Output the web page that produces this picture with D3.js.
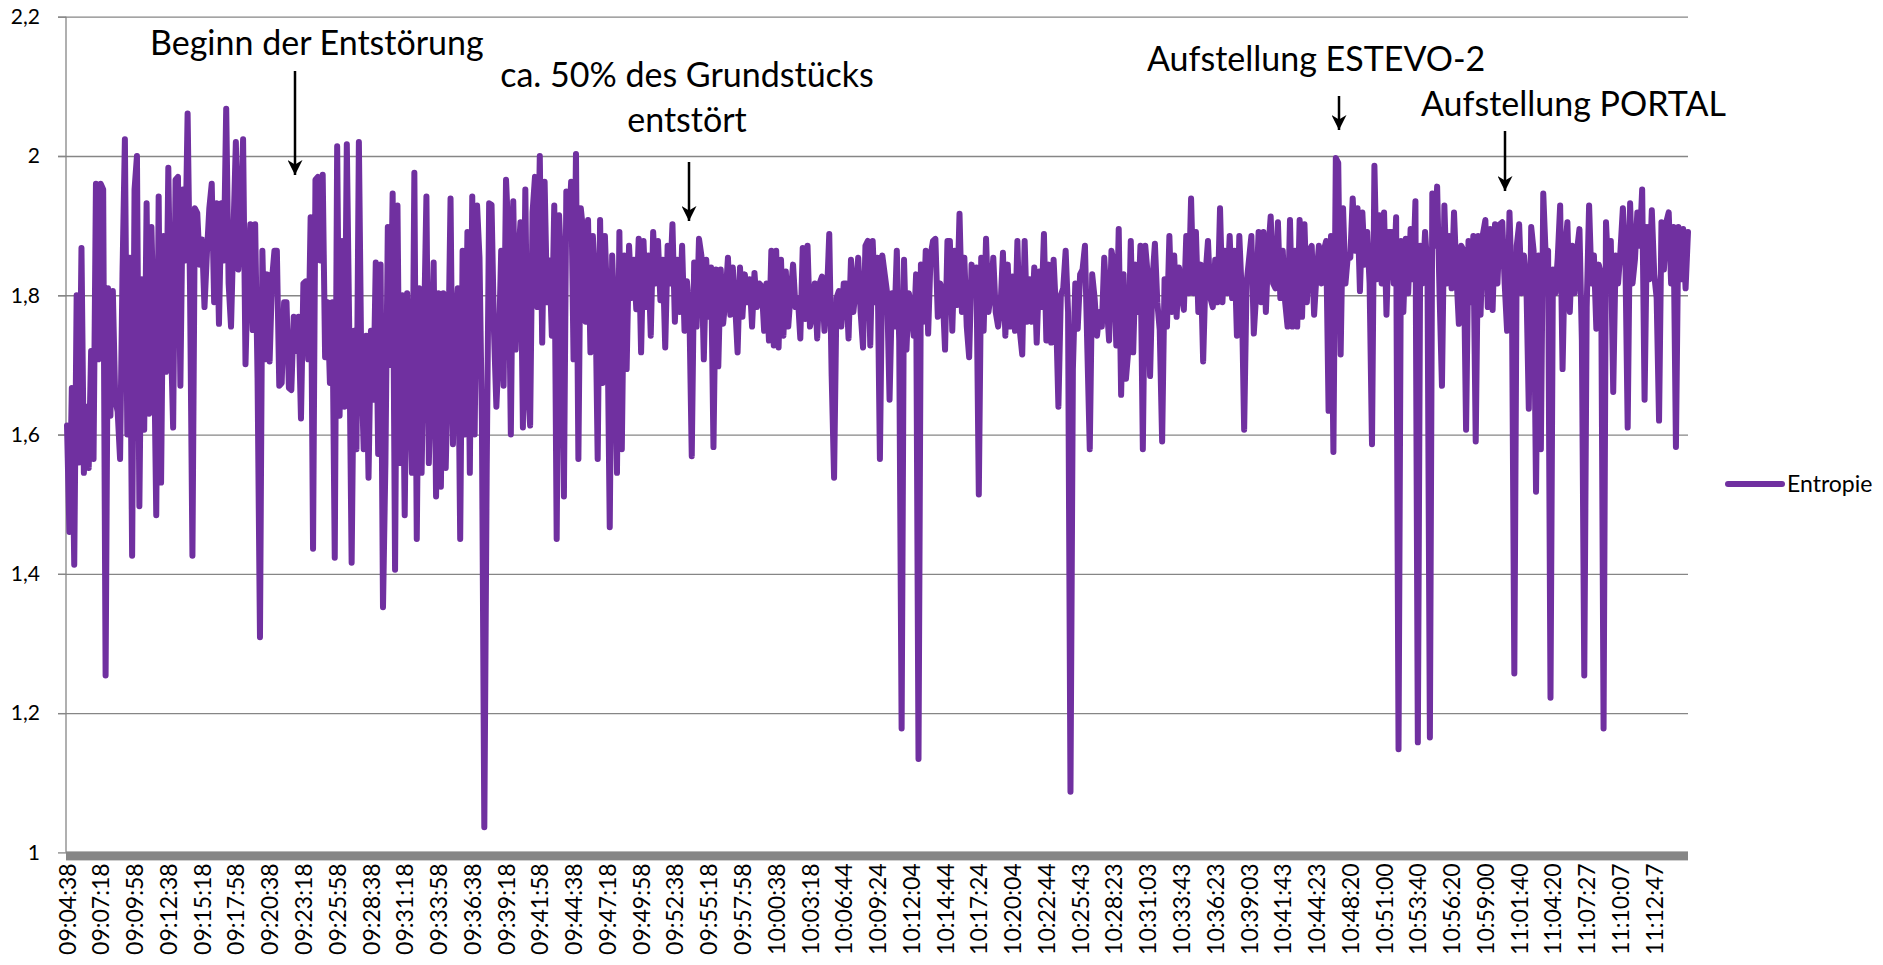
<!DOCTYPE html>
<html>
<head>
<meta charset="utf-8">
<script src="https://cdn.jsdelivr.net/npm/d3@7"></script>
<style>
    body { margin: 0; background: #fff; }
    text { font-family: Lato, "Open Sans", sans-serif; fill: #000; }
</style>
</head>
<body>
<div id="entropie-chart"></div>
<script>
'use strict';

// Zeitstempel an der x-Achse (jeder 14. Messwert)
let times = ['09:04:38', '09:07:18', '09:09:58', '09:12:38', '09:15:18', '09:17:58', '09:20:38', '09:23:18',
    '09:25:58', '09:28:38', '09:31:18', '09:33:58', '09:36:38', '09:39:18', '09:41:58', '09:44:38',
    '09:47:18', '09:49:58', '09:52:38', '09:55:18', '09:57:58', '10:00:38', '10:03:18', '10:06:44',
    '10:09:24', '10:12:04', '10:14:44', '10:17:24', '10:20:04', '10:22:44', '10:25:43', '10:28:23',
    '10:31:03', '10:33:43', '10:36:23', '10:39:03', '10:41:43', '10:44:23', '10:48:20', '10:51:00',
    '10:53:40', '10:56:20', '10:59:00', '11:01:40', '11:04:20', '11:07:27', '11:10:07', '11:12:47'];
let labelStep = 14;

let yTicks = [1, 1.2, 1.4, 1.6, 1.8, 2, 2.2];

// Entropie
let entropie = [
    1.613, 1.46, 1.667, 1.413, 1.80, 1.56, 1.868, 1.545, 1.64, 1.552,
    1.72, 1.565, 1.96, 1.708, 1.96, 1.952, 1.254, 1.81, 1.627, 1.806,
    1.65, 1.633, 1.565, 1.83, 2.024, 1.6, 1.854, 1.426, 1.952, 2.0,
    1.497, 1.823, 1.607, 1.932, 1.63, 1.898, 1.75, 1.484, 1.942, 1.531,
    1.885, 1.69, 1.983, 1.75, 1.61, 1.966, 1.97, 1.67, 1.952, 1.85,
    2.061, 1.81, 1.426, 1.925, 1.918, 1.844, 1.88, 1.783, 1.86, 1.925,
    1.96, 1.79, 1.932, 1.759, 1.932, 1.85, 2.068, 1.817, 1.755, 1.891,
    2.02, 1.837, 1.9, 2.024, 1.701, 1.837, 1.902, 1.75, 1.902, 1.681,
    1.309, 1.864, 1.708, 1.83, 1.705, 1.823, 1.864, 1.864, 1.67, 1.674,
    1.79, 1.79, 1.667, 1.664, 1.769, 1.72, 1.769, 1.623, 1.817, 1.82,
    1.708, 1.912, 1.436, 1.966, 1.97, 1.85, 1.973, 1.711, 1.79, 1.674,
    1.79, 1.423, 2.014, 1.627, 1.878, 1.64, 2.017, 1.75, 1.416, 1.749,
    1.579, 2.02, 1.7, 1.579, 1.742, 1.538, 1.749, 1.65, 1.847, 1.572,
    1.844, 1.352, 1.559, 1.898, 1.7, 1.946, 1.406, 1.929,

    1.559, 1.8, 1.484, 1.803, 1.7, 1.545, 1.976, 1.45, 1.81, 1.545,
    1.75, 1.942, 1.559, 1.694, 1.847, 1.511, 1.803, 1.525, 1.803, 1.552,
    1.701, 1.939, 1.586, 1.749, 1.81, 1.45, 1.864, 1.6, 1.891, 1.545,
    1.942, 1.6, 1.929, 1.854, 1.62, 1.036, 1.552, 1.932, 1.93, 1.75,
    1.64, 1.722, 1.864, 1.67, 1.966, 1.885, 1.6, 1.935, 1.722, 1.85,
    1.905, 1.61, 1.952, 1.667, 1.613, 1.919, 1.97, 1.783, 2.0, 1.732,
    1.963, 1.79, 1.85, 1.742, 1.929, 1.45, 1.915, 1.83, 1.511, 1.949,
    1.891, 1.963, 1.708, 2.003, 1.565, 1.925, 1.891, 1.762, 1.908, 1.718,
    1.885, 1.817, 1.565, 1.908, 1.674, 1.885, 1.78, 1.467, 1.857, 1.762,
    1.545, 1.891, 1.579, 1.857, 1.694, 1.871, 1.796, 1.851, 1.78, 1.881,
    1.718, 1.878, 1.783, 1.857, 1.742, 1.891, 1.817, 1.878, 1.793, 1.851,
    1.725, 1.871, 1.817, 1.902, 1.762, 1.851, 1.776, 1.871, 1.749, 1.82,
    1.78, 1.569, 1.847, 1.755, 1.881, 1.857, 1.708, 1.851, 1.769, 1.84,
    1.582, 1.837, 1.698, 1.837, 1.759, 1.796, 1.854,

    1.772, 1.84, 1.786, 1.718, 1.84, 1.769, 1.83, 1.79, 1.823, 1.755,
    1.832, 1.783, 1.817, 1.813, 1.749, 1.817, 1.735, 1.864, 1.728, 1.864,
    1.725, 1.851, 1.742, 1.834, 1.755, 1.803, 1.844, 1.783, 1.796, 1.738,
    1.868, 1.766, 1.871, 1.755, 1.772, 1.817, 1.738, 1.817, 1.827, 1.749,
    1.796, 1.888, 1.684, 1.538, 1.796, 1.806, 1.755, 1.817, 1.817, 1.738,
    1.851, 1.776, 1.81, 1.854, 1.776, 1.725, 1.871, 1.878, 1.728, 1.878,
    1.79, 1.854, 1.565, 1.857, 1.83, 1.803, 1.65, 1.803, 1.755, 1.864,
    1.735, 1.178, 1.851, 1.722, 1.803, 1.783, 1.742, 1.83, 1.134, 1.844,
    1.762, 1.864, 1.745, 1.857, 1.878, 1.881, 1.769, 1.817, 1.803, 1.722,
    1.878, 1.878, 1.749, 1.864, 1.786, 1.917, 1.776, 1.854, 1.755, 1.711,
    1.844, 1.803, 1.84, 1.514, 1.854, 1.749, 1.881, 1.776, 1.803, 1.854,
    1.776, 1.755, 1.783, 1.861, 1.742, 1.844, 1.755, 1.827, 1.749, 1.878,
    1.749, 1.715, 1.878, 1.762, 1.823, 1.762, 1.84, 1.732, 1.834, 1.783,
    1.888, 1.735, 1.844, 1.732, 1.851, 1.776, 1.64,

    1.80, 1.81, 1.864, 1.776, 1.087, 1.694, 1.817, 1.752, 1.83, 1.837,
    1.871, 1.722, 1.579, 1.83, 1.796, 1.742, 1.776, 1.755, 1.854, 1.79,
    1.735, 1.864, 1.844, 1.728, 1.895, 1.657, 1.83, 1.68, 1.722, 1.878,
    1.718, 1.844, 1.776, 1.871, 1.579, 1.871, 1.83, 1.684, 1.823, 1.874,
    1.79, 1.75, 1.59, 1.823, 1.755, 1.885, 1.776, 1.857, 1.769, 1.84,
    1.803, 1.779, 1.885, 1.803, 1.939, 1.803, 1.891, 1.776, 1.844, 1.705,
    1.83, 1.878, 1.796, 1.783, 1.851, 1.79, 1.925, 1.79, 1.864, 1.803,
    1.885, 1.796, 1.864, 1.742, 1.885, 1.803, 1.607, 1.817, 1.851, 1.885,
    1.745, 1.803, 1.891, 1.79, 1.891, 1.776, 1.864, 1.913, 1.817, 1.81,
    1.905, 1.796, 1.864, 1.79, 1.755, 1.908, 1.755, 1.864, 1.755, 1.908,
    1.769, 1.902, 1.79, 1.864, 1.871, 1.772, 1.83, 1.871, 1.817, 1.864,
    1.878, 1.634, 1.885, 1.575, 1.997, 1.99, 1.715, 1.925, 1.817, 1.857,
    1.854, 1.939, 1.864, 1.925, 1.806, 1.919, 1.844, 1.891, 1.817, 1.586,
    1.986, 1.823, 1.915, 1.817, 1.919, 1.772, 1.891,

    1.891, 1.817, 1.912, 1.148, 1.878, 1.776, 1.881, 1.803, 1.895, 1.823,
    1.935, 1.158, 1.871, 1.817, 1.891, 1.837, 1.165, 1.946, 1.871, 1.956,
    1.803, 1.67, 1.929, 1.817, 1.885, 1.81, 1.919, 1.83, 1.759, 1.871,
    1.864, 1.607, 1.878, 1.79, 1.885, 1.59, 1.885, 1.772, 1.888, 1.908,
    1.783, 1.895, 1.779, 1.902, 1.817, 1.902, 1.905, 1.817, 1.749, 1.919,
    1.803, 1.257, 1.871, 1.902, 1.803, 1.857, 1.817, 1.637, 1.898, 1.864,
    1.518, 1.857, 1.579, 1.946, 1.857, 1.864, 1.222, 1.837, 1.803, 1.854,
    1.929, 1.694, 1.864, 1.905, 1.776, 1.871, 1.803, 1.864, 1.895, 1.735,
    1.254, 1.783, 1.929, 1.817, 1.857, 1.752, 1.844, 1.83, 1.178, 1.905,
    1.83, 1.878, 1.661, 1.857, 1.817, 1.864, 1.925, 1.864, 1.61, 1.932,
    1.817, 1.851, 1.919, 1.871, 1.952, 1.65, 1.898, 1.823, 1.922, 1.83,
    1.796, 1.62, 1.905, 1.837, 1.905, 1.919, 1.817, 1.898, 1.582, 1.898,
    1.823, 1.895, 1.81, 1.891
];

// Beschriftungen im Diagramm
let notes = [
    { lines: ['Beginn der Entstörung'], x: 150, y: 55, anchor: 'start', arrowX: 295, from: 71, to: 175 },
    { lines: ['ca. 50% des Grundstücks', 'entstört'], x: 687, y: 87, anchor: 'middle', arrowX: 689, from: 162, to: 221 },
    { lines: ['Aufstellung ESTEVO-2'], x: 1147, y: 71, anchor: 'start', arrowX: 1339, from: 96, to: 130 },
    { lines: ['Aufstellung PORTAL'], x: 1421, y: 116, anchor: 'start', arrowX: 1505, from: 131, to: 191 }
];

let chartW = 1883, chartH = 965;
let plotLeft = 66, plotRight = 1688, plotTop = 16.7, plotBottom = 852.4;
let purple = '#7030a0', grey = '#868686';

draw();

function draw() {
    let svg = d3.select('#entropie-chart')
        .append('svg')
        .attr('width', chartW)
        .attr('height', chartH);

    svg.append('rect')
        .attr('width', chartW)
        .attr('height', chartH)
        .attr('fill', '#fff');

    let x = d3.scaleLinear()
        .domain([0, entropie.length - 1])
        .range([plotLeft + 1, plotRight]);

    let y = d3.scaleLinear()
        .domain([1, 2.2])
        .range([plotBottom, plotTop]);

    let de = d3.formatLocale({ decimal: ',', thousands: '.', grouping: [3], currency: ['', ' €'] });
    let fmt = de.format('.1~f');

    // Gitterlinien + kleine Striche links der Achse
    let grid = svg.append('g')
        .attr('transform', 'translate(' + plotRight + ',0)')
        .call(d3.axisLeft(y).tickValues(yTicks.slice(1)).tickSize(plotRight - plotLeft + 8).tickFormat(''));
    grid.select('.domain').remove();
    grid.selectAll('line').attr('stroke', grey).attr('stroke-width', 1.3);

    let yAxis = svg.append('g')
        .attr('transform', 'translate(' + plotLeft + ',0)')
        .call(d3.axisLeft(y).tickValues(yTicks).tickSize(8).tickPadding(18).tickFormat(fmt));
    yAxis.select('.domain').attr('stroke', grey).attr('stroke-width', 1.3).attr('d', 'M0,' + plotTop + 'V' + plotBottom);
    yAxis.selectAll('line').attr('stroke', grey).attr('stroke-width', 1.3);
    yAxis.selectAll('text')
        .style('font-size', '21px')
        .style('font-family', 'Lato, sans-serif')
        .attr('fill', '#000');

    // breite graue Kategorienachse
    svg.append('rect')
        .attr('x', plotLeft)
        .attr('y', plotBottom - 1)
        .attr('width', plotRight - plotLeft)
        .attr('height', 9)
        .attr('fill', grey);

    let tickIdx = times.map(function (t, i) {
        return i * labelStep;
    });

    let xAxis = svg.append('g')
        .attr('transform', 'translate(0,' + (plotBottom + 11) + ')')
        .call(d3.axisBottom(x).tickValues(tickIdx).tickSize(0).tickFormat(function (d) {
            return times[d / labelStep];
        }));
    xAxis.select('.domain').remove();
    xAxis.selectAll('text')
        .style('font-size', '23px')
        .style('font-family', 'Lato, sans-serif')
        .attr('fill', '#000')
        .attr('text-anchor', 'end')
        .attr('x', 0)
        .attr('y', 0)
        .attr('dy', '0.35em')
        .attr('transform', 'rotate(-90)');

    let line = d3.line()
        .x(function (d, i) { return x(i); })
        .y(function (d) { return y(d); });

    svg.append('path')
        .datum(entropie)
        .attr('d', line)
        .attr('fill', 'none')
        .attr('stroke', purple)
        .attr('stroke-width', 6)
        .attr('stroke-linejoin', 'round')
        .attr('stroke-linecap', 'round');

    // Legende
    svg.append('line')
        .attr('x1', 1728).attr('x2', 1782)
        .attr('y1', 484).attr('y2', 484)
        .attr('stroke', purple)
        .attr('stroke-width', 6)
        .attr('stroke-linecap', 'round');
    svg.append('text')
        .attr('x', 1787)
        .attr('y', 492)
        .style('font-size', '23px')
        .text('Entropie');

    // Anmerkungen mit Pfeilen
    let defs = svg.append('defs');
    defs.append('marker')
        .attr('id', 'arrow')
        .attr('viewBox', '0 0 10 10')
        .attr('refX', 10)
        .attr('refY', 5)
        .attr('markerWidth', 6)
        .attr('markerHeight', 6)
        .attr('markerUnits', 'strokeWidth')
        .attr('orient', 'auto')
        .append('path')
        .attr('d', 'M0,0L10,5L0,10L3,5Z')
        .attr('fill', '#000');

    let note = svg.selectAll('.note')
        .data(notes)
        .enter()
        .append('g')
        .attr('class', 'note');

    note.append('text')
        .attr('text-anchor', function (d) { return d.anchor; })
        .style('font-size', '34px')
        .selectAll('tspan')
        .data(function (d) {
            return d.lines.map(function (l, i) {
                return { text: l, x: d.x, y: d.y + i * 45 };
            });
        })
        .enter()
        .append('tspan')
        .attr('x', function (d) { return d.x; })
        .attr('y', function (d) { return d.y; })
        .text(function (d) { return d.text; });

    note.append('line')
        .attr('x1', function (d) { return d.arrowX; })
        .attr('x2', function (d) { return d.arrowX; })
        .attr('y1', function (d) { return d.from; })
        .attr('y2', function (d) { return d.to; })
        .attr('stroke', '#000')
        .attr('stroke-width', 2.5)
        .attr('marker-end', 'url(#arrow)');
}
</script>
</body>
</html>
